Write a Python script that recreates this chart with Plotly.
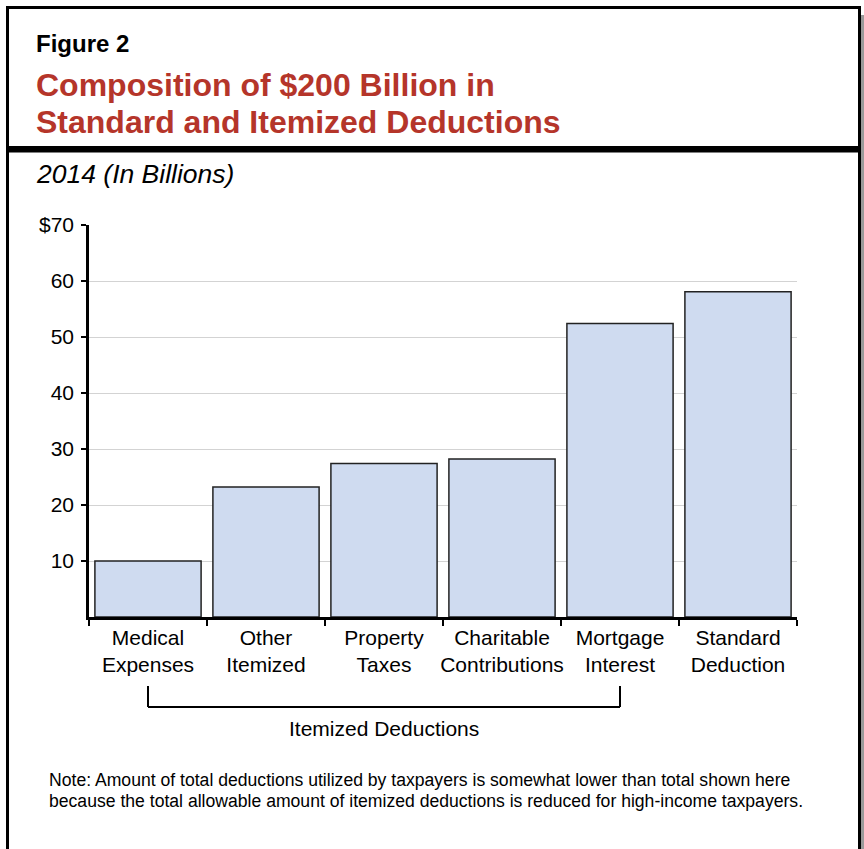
import plotly.graph_objects as go

# ---- data ----
categories = ["Medical<br>Expenses", "Other<br>Itemized", "Property<br>Taxes",
              "Charitable<br>Contributions", "Mortgage<br>Interest", "Standard<br>Deduction"]
values = [10.0, 23.2, 27.4, 28.2, 52.4, 58.1]
ytick_vals = [10, 20, 30, 40, 50, 60, 70]
ytick_text = ["10", "20", "30", "40", "50", "60", "$70"]
title_lines = ["Composition of $200 Billion in", "Standard and Itemized Deductions"]

FONT = "Liberation Sans, Arial, Helvetica, sans-serif"
RED = "#B5352A"

# plot-area pixel geometry
WID, HEI = 864, 849
L, R, T, B = 89, 797, 225, 617
PW, PH = R - L, B - T


def px(x):
    return (x - L) / PW


def py(y):
    return (B - y) / PH


fig = go.Figure()
fig.add_trace(go.Bar(
    x=categories, y=values,
    marker=dict(color="#CFDBF0", line=dict(color="#222222", width=1.5)),
    hoverinfo="skip",
))

shapes = []
# outer frame
shapes.append(dict(type="rect", xref="paper", yref="paper", x0=px(860.5), x1=px(864), y0=py(15), y1=py(860),
                   fillcolor="#9a9a9a", line=dict(width=0), layer="below"))
shapes.append(dict(type="line", xref="paper", yref="paper", x0=px(7.5), x1=px(7.5), y0=py(6), y1=py(860),
                   line=dict(color="black", width=3)))
shapes.append(dict(type="line", xref="paper", yref="paper", x0=px(6), x1=px(861), y0=py(7.5), y1=py(7.5),
                   line=dict(color="black", width=3)))
shapes.append(dict(type="line", xref="paper", yref="paper", x0=px(859.5), x1=px(859.5), y0=py(6), y1=py(860),
                   line=dict(color="black", width=3)))
# thick rule under title
shapes.append(dict(type="rect", xref="paper", yref="paper", x0=px(6), x1=px(861), y0=py(146), y1=py(152.5),
                   fillcolor="black", line=dict(width=0)))
# bracket for itemized deductions (from first to fifth category centre)
shapes.append(dict(type="line", xref="x", yref="paper", x0=0, x1=0, y0=py(686), y1=py(707),
                   line=dict(color="black", width=2)))
shapes.append(dict(type="line", xref="x", yref="paper", x0=0, x1=4, y0=py(707), y1=py(707),
                   line=dict(color="black", width=2)))
shapes.append(dict(type="line", xref="x", yref="paper", x0=4, x1=4, y0=py(707), y1=py(686),
                   line=dict(color="black", width=2)))

annotations = [
    dict(text="<b>Figure 2</b>", xref="paper", yref="paper", x=px(34), y=py(44), xanchor="left", yanchor="middle",
         showarrow=False, font=dict(family=FONT, size=24, color="black")),
    dict(text="<b>" + title_lines[0] + "</b>", xref="paper", yref="paper",
         x=px(34), y=py(85), xanchor="left", yanchor="middle", align="left",
         showarrow=False, font=dict(family=FONT, size=32, color=RED)),
    dict(text="<b>" + title_lines[1] + "</b>", xref="paper", yref="paper",
         x=px(34), y=py(122.5), xanchor="left", yanchor="middle", align="left",
         showarrow=False, font=dict(family=FONT, size=32, color=RED)),
    dict(text="<i>2014 (In Billions)</i>", xref="paper", yref="paper", x=px(34), y=py(174), xanchor="left",
         yanchor="middle", showarrow=False, font=dict(family=FONT, size=26.5, color="black")),
    dict(text="Itemized Deductions", xref="x", yref="paper", x=2, y=py(728), xanchor="center", yanchor="middle",
         showarrow=False, font=dict(family=FONT, size=21, color="black")),
    dict(text="Note: Amount of total deductions utilized by taxpayers is somewhat lower than total shown here",
         xref="paper", yref="paper", x=px(47), y=py(780), xanchor="left", yanchor="middle", align="left",
         showarrow=False, font=dict(family=FONT, size=17.6, color="black")),
    dict(text="because the total allowable amount of itemized deductions is reduced for high-income taxpayers.",
         xref="paper", yref="paper", x=px(47), y=py(801), xanchor="left", yanchor="middle", align="left",
         showarrow=False, font=dict(family=FONT, size=17.6, color="black")),
]

fig.update_layout(
    width=WID, height=HEI,
    margin=dict(l=L, r=WID - R, t=T, b=HEI - B, pad=0),
    paper_bgcolor="white", plot_bgcolor="white",
    bargap=0.1,
    showlegend=False,
    font=dict(family=FONT, size=21, color="black"),
    shapes=shapes,
    annotations=annotations,
    xaxis=dict(
        type="category", showline=True, linecolor="black", linewidth=2.5,
        ticks="outside", tickson="boundaries", ticklen=6, tickwidth=2, tickcolor="black",
        showgrid=False, tickfont=dict(family=FONT, size=21, color="black"),
        tickangle=0, range=[-0.5, 5.5], fixedrange=True,
    ),
    yaxis=dict(
        range=[0, 70], tickvals=ytick_vals, ticktext=ytick_text,
        showline=True, linecolor="black", linewidth=2.5,
        ticks="outside", ticklen=5, tickwidth=2, tickcolor="black",
        showgrid=True, gridcolor="#D3D3D3", gridwidth=1,
        zeroline=False, tickfont=dict(family=FONT, size=21, color="black"),
        ticklabelstandoff=3, fixedrange=True,
    ),
)

fig.write_html("out.html")
